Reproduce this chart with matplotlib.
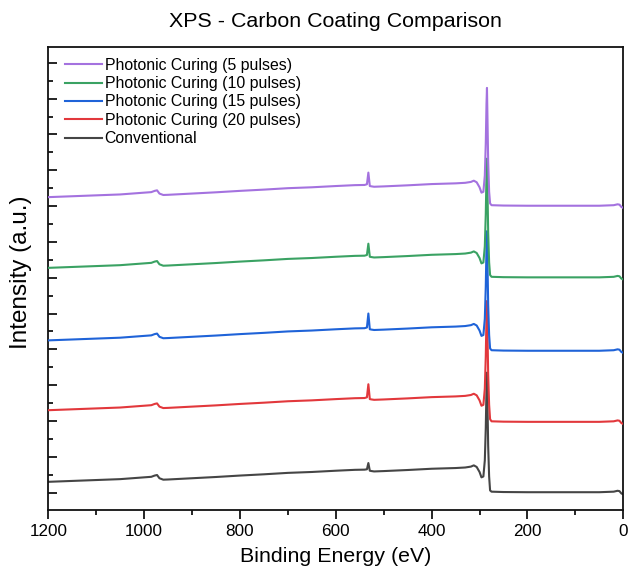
import matplotlib
matplotlib.use("Agg")
import matplotlib.pyplot as plt
from matplotlib.ticker import MultipleLocator, FixedLocator

plt.rcParams['font.family'] = ['Liberation Sans', 'DejaVu Sans']

# Binding energy sample points (eV), high to low
energy = [1200, 1150, 1100, 1050, 1000, 985, 978, 973, 968, 960, 950,
          900, 850, 800, 750, 700, 650, 600, 560, 540, 535, 532, 529,
          525, 520, 500, 450, 400, 350, 330, 318, 312, 306, 300, 296,
          292, 289, 287, 285.5, 284.5, 283.5, 282, 280, 278, 275, 250,
          200, 150, 100, 50, 20, 12, 8, 4, 0]

# Stacked survey spectra (arbitrary units)
pc_5 = [17.50, 17.55, 17.60, 17.65, 17.75, 17.78, 17.85, 17.88, 17.70,
        17.62, 17.63, 17.70, 17.77, 17.85, 17.92, 18.00, 18.05, 18.12,
        18.17, 18.18, 18.22, 18.87, 18.12, 18.10, 18.08, 18.10, 18.16,
        18.23, 18.27, 18.30, 18.35, 18.42, 18.33, 18.05, 17.75, 17.80,
        18.70, 20.50, 22.70, 23.60, 22.00, 19.50, 17.80, 17.15, 17.05,
        17.03, 17.02, 17.02, 17.02, 17.02, 17.05, 17.10, 17.08, 16.95,
        16.90]
pc_10 = [13.55, 13.60, 13.65, 13.70, 13.80, 13.83, 13.90, 13.93, 13.75,
         13.67, 13.68, 13.75, 13.82, 13.90, 13.97, 14.05, 14.10, 14.17,
         14.22, 14.23, 14.27, 14.90, 14.17, 14.15, 14.13, 14.15, 14.21,
         14.28, 14.32, 14.35, 14.40, 14.47, 14.38, 14.10, 13.80, 13.85,
         14.75, 16.55, 18.75, 19.65, 18.05, 15.55, 13.85, 13.15, 13.05,
         13.03, 13.02, 13.02, 13.02, 13.02, 13.05, 13.10, 13.08, 12.95,
         12.90]
pc_15 = [9.50, 9.55, 9.60, 9.65, 9.75, 9.78, 9.85, 9.88, 9.70,
         9.62, 9.63, 9.70, 9.77, 9.85, 9.92, 10.00, 10.05, 10.12,
         10.17, 10.18, 10.22, 11.00, 10.12, 10.10, 10.08, 10.10, 10.16,
         10.23, 10.27, 10.30, 10.35, 10.42, 10.33, 10.05, 9.75, 9.80,
         10.70, 12.50, 14.70, 15.60, 14.00, 11.50, 9.80, 9.05, 8.95,
         8.93, 8.92, 8.92, 8.92, 8.92, 8.95, 9.00, 8.98, 8.85,
         8.80]
pc_20 = [5.60, 5.65, 5.70, 5.75, 5.85, 5.88, 5.95, 5.98, 5.80,
         5.72, 5.73, 5.80, 5.87, 5.95, 6.02, 6.10, 6.15, 6.22,
         6.27, 6.28, 6.32, 7.05, 6.22, 6.20, 6.18, 6.20, 6.26,
         6.33, 6.37, 6.40, 6.45, 6.52, 6.43, 6.15, 5.85, 5.90,
         6.80, 8.60, 10.80, 11.70, 10.10, 7.60, 5.90, 5.10, 4.98,
         4.96, 4.95, 4.95, 4.95, 4.95, 4.98, 5.03, 5.01, 4.88,
         4.83]
conventional = [1.60, 1.65, 1.70, 1.75, 1.85, 1.88, 1.95, 1.98, 1.80,
                1.72, 1.73, 1.80, 1.87, 1.95, 2.02, 2.10, 2.15, 2.22,
                2.27, 2.28, 2.30, 2.65, 2.22, 2.20, 2.18, 2.20, 2.26,
                2.33, 2.37, 2.40, 2.45, 2.52, 2.43, 2.15, 1.85, 1.90,
                2.80, 4.60, 6.80, 7.70, 6.10, 3.60, 1.90, 1.12, 1.05,
                1.03, 1.02, 1.02, 1.02, 1.02, 1.05, 1.10, 1.08, 0.95,
                0.90]

series = [
    ("Photonic Curing (5 pulses)", pc_5, "#a472df"),
    ("Photonic Curing (10 pulses)", pc_10, "#3aa263"),
    ("Photonic Curing (15 pulses)", pc_15, "#1f63d8"),
    ("Photonic Curing (20 pulses)", pc_20, "#e2383c"),
    ("Conventional", conventional, "#454545"),
]

fig = plt.figure(figsize=(6.31, 5.77), dpi=100)
ax = fig.add_axes([0.0765, 0.1153, 0.9113, 0.8037])

n = len(series)
for i, (label, vals, color) in enumerate(series):
    ax.plot(energy, vals, color=color, lw=1.5, label=label, zorder=n - i + 1)

ax.set_xlim(1200, 0)
ax.set_ylim(0, 25.9)

ax.xaxis.set_major_locator(MultipleLocator(200))
ax.xaxis.set_minor_locator(MultipleLocator(100))
ax.yaxis.set_major_locator(FixedLocator([1, 3, 5, 7, 9, 11, 13, 15, 17, 19, 21, 23, 25]))
ax.yaxis.set_minor_locator(FixedLocator([2, 4, 6, 8, 10, 12, 14, 16, 18, 20, 22, 24]))
ax.set_yticklabels([])

ax.tick_params(axis='x', which='major', direction='out', length=6.5, width=1.2,
               labelsize=12.3, pad=3)
ax.tick_params(axis='x', which='minor', direction='out', length=3.5, width=1.2)
ax.tick_params(axis='y', which='major', direction='in', length=6.5, width=1.2)
ax.tick_params(axis='y', which='minor', direction='in', length=3.5, width=1.2)

for sp in ax.spines.values():
    sp.set_linewidth(1.3)
    sp.set_color("#111111")

ax.set_xlabel("Binding Energy (eV)", fontsize=15.4, labelpad=6)
ax.set_ylabel("Intensity (a.u.)", fontsize=17.5)
ax.yaxis.set_label_coords(-0.028, 0.513)
ax.set_title("XPS - Carbon Coating Comparison", fontsize=15.4, pad=14)

ax.legend(loc='upper left', frameon=False, fontsize=11.4, handlelength=2.3,
          handletextpad=0.2, labelspacing=0.21, borderaxespad=0.3,
          bbox_to_anchor=(0.01, 1.0))

fig.savefig("out.png", dpi=100)
